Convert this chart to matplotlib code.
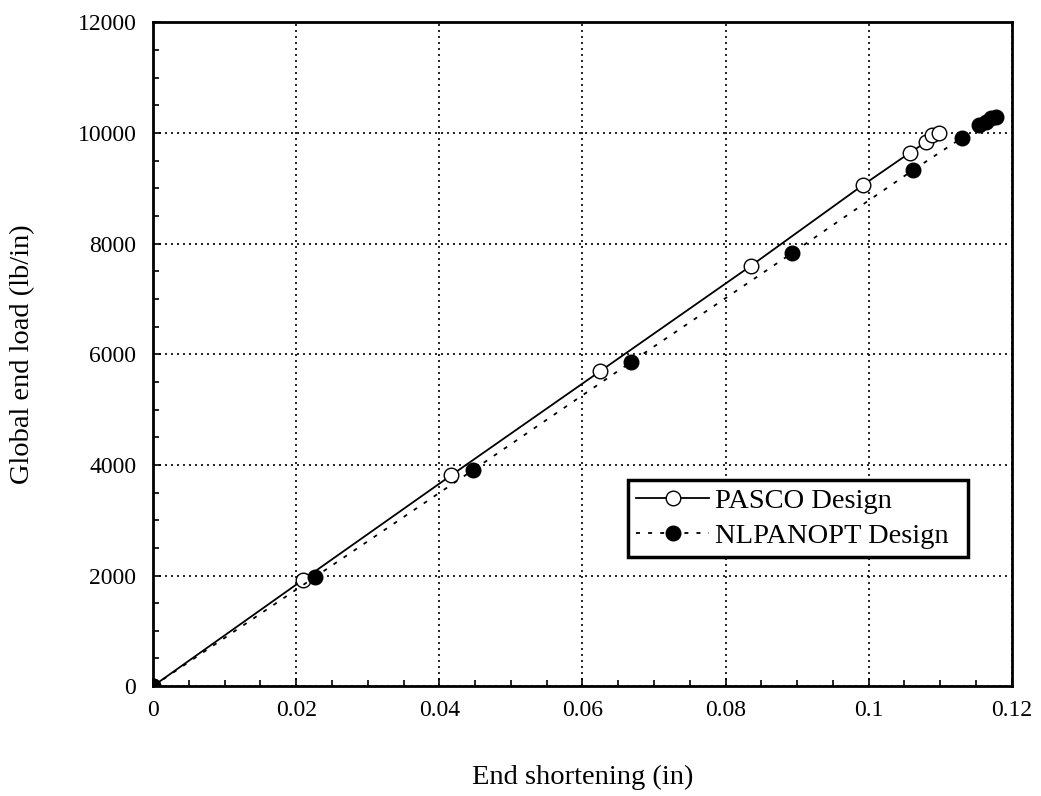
import matplotlib
matplotlib.use("Agg")
import matplotlib.pyplot as plt
from matplotlib.ticker import MultipleLocator, FixedFormatter, FixedLocator

plt.rcParams['font.family'] = ['Liberation Serif', 'DejaVu Serif']

# End shortening (in) and global end load (lb/in)
pasco_x = [0.0, 0.0209, 0.0417, 0.0625, 0.0835, 0.0992, 0.1057, 0.1080, 0.1089, 0.1098]
pasco_y = [0, 1917, 3815, 5695, 7594, 9058, 9637, 9835, 9962, 9998]

nlp_x = [0.0, 0.0226, 0.0447, 0.0668, 0.0893, 0.1062, 0.1130, 0.1154, 0.1164, 0.1171, 0.1178]
nlp_y = [0, 1971, 3905, 5858, 7829, 9329, 9908, 10143, 10197, 10270, 10288]

x_ticks = [0, 0.02, 0.04, 0.06, 0.08, 0.1, 0.12]
x_tick_labels = ["0", "0.02", "0.04", "0.06", "0.08", "0.1", "0.12"]
y_ticks = [0, 2000, 4000, 6000, 8000, 10000, 12000]
y_tick_labels = ["0", "2000", "4000", "6000", "8000", "10000", "12000"]

fig = plt.figure(figsize=(10.41, 7.96), dpi=100)
ax = fig.add_axes([0.147, 0.138, 0.825, 0.834])

ax.plot(pasco_x, pasco_y, '-', color='black', lw=1.3, marker='o', ms=10.5,
        mfc='white', mec='black', mew=1.0, label='PASCO Design', zorder=3)
ax.plot(nlp_x, nlp_y, color='black', lw=1.3, dashes=(2.2, 4.5), marker='o', ms=10.5,
        mfc='black', mec='black', label='NLPANOPT Design', zorder=3)

ax.set_xlim(0, 0.12)
ax.set_ylim(0, 12000)
ax.xaxis.set_major_locator(FixedLocator(x_ticks))
ax.xaxis.set_major_formatter(FixedFormatter(x_tick_labels))
ax.yaxis.set_major_locator(FixedLocator(y_ticks))
ax.yaxis.set_major_formatter(FixedFormatter(y_tick_labels))
ax.xaxis.set_minor_locator(MultipleLocator(0.005))
ax.yaxis.set_minor_locator(MultipleLocator(500))
ax.tick_params(which='both', direction='in', top=False, right=False,
               labelsize=17, width=1.2)
ax.tick_params(which='major', length=6)
ax.tick_params(axis='x', which='major', pad=10)
ax.tick_params(axis='y', which='major', pad=12)
ax.tick_params(which='minor', length=4)

ax.grid(True, which='major', color='black', lw=1.2, dashes=(1.2, 2.4))
for s in ax.spines.values():
    s.set_linewidth(2)

ax.set_xlabel('End shortening (in)', fontsize=20.5)
ax.set_ylabel('Global end load (lb/in)', fontsize=20.5)
ax.xaxis.set_label_coords(0.5, -0.118)
ax.yaxis.set_label_coords(-0.137, 0.5)

leg = ax.legend(loc='lower left', bbox_to_anchor=(0.553, 0.194, 0.396, 0.119),
                mode='expand', fontsize=20.5, frameon=True, fancybox=False,
                borderpad=0.3, labelspacing=0.3, handlelength=2.55,
                handletextpad=0.2, borderaxespad=0)
leg.get_frame().set_edgecolor('black')
leg.get_frame().set_linewidth(2.5)
leg.get_frame().set_alpha(1)

fig.savefig('out.png', dpi=100, facecolor='white')
